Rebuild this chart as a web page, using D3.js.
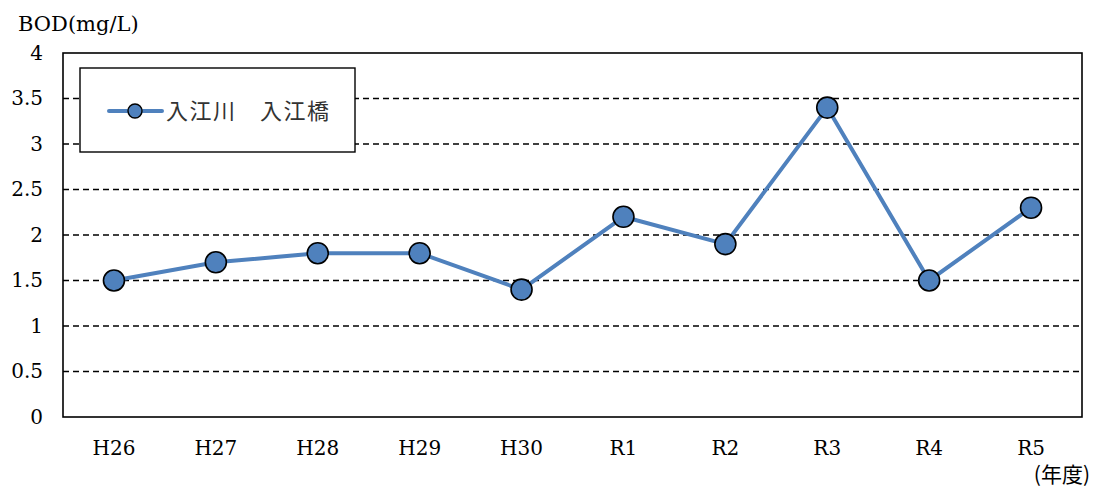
<!DOCTYPE html>
<html><head><meta charset="utf-8">
<script src="https://cdn.jsdelivr.net/npm/d3@7"></script>
<style>body{margin:0;background:#fff}</style>
</head><body>
<svg id="c" width="1095" height="487"></svg>
<script>
const categories = ["H26","H27","H28","H29","H30","R1","R2","R3","R4","R5"];
const values = [1.5,1.7,1.8,1.8,1.4,2.2,1.9,3.4,1.5,2.3];
const yTicks = [0,0.5,1,1.5,2,2.5,3,3.5,4];
const seriesName = "入江川　入江橋";

const svg = d3.select("#c");
const L = 63, R = 1082, T = 53, B = 417;
const x = d3.scaleBand().domain(categories).range([L, R]);
const y = d3.scaleLinear().domain([0, 4]).range([B, T]);
const serif = "'DejaVu Serif','Liberation Serif',serif";
const cjk = "'Noto Sans CJK JP',sans-serif";

// gridlines
svg.append("g").selectAll("line").data(yTicks.filter(d => d > 0 && d < 4)).join("line")
  .attr("x1", L).attr("x2", R).attr("y1", d => y(d)).attr("y2", d => y(d))
  .attr("stroke", "#000").attr("stroke-width", 1.3).attr("stroke-dasharray", "6,4");

// border
svg.append("rect").attr("x", L).attr("y", T).attr("width", R - L).attr("height", B - T)
  .attr("fill", "none").attr("stroke", "#000").attr("stroke-width", 1.6);

// y axis labels
const ya = svg.append("g").attr("transform", `translate(${L},0)`)
  .call(d3.axisLeft(y).tickValues(yTicks).tickSize(0).tickPadding(20).tickFormat(d3.format("")));
ya.select(".domain").remove();
ya.selectAll("text").attr("font-family", serif).attr("font-size", 20).attr("fill", "#000");

// x axis labels
const xa = svg.append("g").attr("transform", `translate(0,${B})`)
  .call(d3.axisBottom(x).tickSize(0).tickPadding(24));
xa.select(".domain").remove();
xa.selectAll("text").attr("font-family", serif).attr("font-size", 20).attr("fill", "#000");

// titles
svg.append("text").attr("x", 18).attr("y", 31).attr("font-family", serif).attr("font-size", 21).text("BOD(mg/L)");
svg.append("text").attr("x", 1090).attr("y", 482).attr("text-anchor", "end")
  .attr("font-family", cjk).attr("font-size", 21).text("(年度)");

// line
const line = d3.line().x((d, i) => x(categories[i]) + x.bandwidth() / 2).y(d => y(d));
svg.append("path").datum(values).attr("d", line).attr("fill", "none")
  .attr("stroke", "#4F81BD").attr("stroke-width", 4).attr("stroke-linejoin", "round");
svg.append("g").selectAll("circle").data(values).join("circle")
  .attr("cx", (d, i) => x(categories[i]) + x.bandwidth() / 2).attr("cy", d => y(d)).attr("r", 10.5)
  .attr("fill", "#4F81BD").attr("stroke", "#000").attr("stroke-width", 1.6);

// legend
const lg = svg.append("g");
lg.append("rect").attr("x", 80).attr("y", 68).attr("width", 275).attr("height", 84)
  .attr("fill", "#fff").attr("stroke", "#000").attr("stroke-width", 1.4);
lg.append("line").attr("x1", 109).attr("x2", 162).attr("y1", 111).attr("y2", 111)
  .attr("stroke", "#4F81BD").attr("stroke-width", 4).attr("stroke-linecap", "round");
lg.append("circle").attr("cx", 135).attr("cy", 111).attr("r", 7)
  .attr("fill", "#4F81BD").attr("stroke", "#000").attr("stroke-width", 1.4);
lg.append("text").attr("x", 166).attr("y", 119).attr("font-family", cjk)
  .attr("font-size", 22).attr("letter-spacing", 1.5).attr("fill", "#333").text(seriesName);
</script>
</body></html>
